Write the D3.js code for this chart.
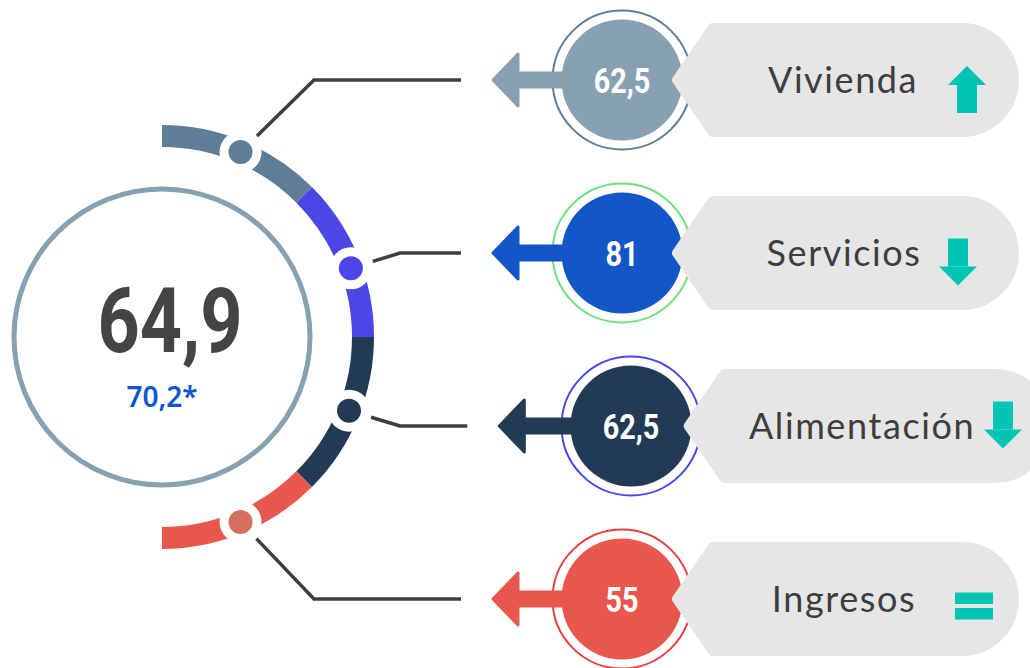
<!DOCTYPE html>
<html>
<head>
<meta charset="utf-8">
<script src="https://cdn.jsdelivr.net/npm/d3@7"></script>
<style>
  body { margin: 0; background: #fff; }
  svg { display: block; }
</style>
</head>
<body>
<div id="chart"></div>
<script>
// data
const categories = ['Vivienda', 'Servicios', 'Alimentación', 'Ingresos'];
const values = [62.5, 81, 62.5, 55];
const trends = ['up', 'down', 'down', 'equal'];
const arcShare = [1, 1, 1, 1];
const totalValue = 64.9;
const referenceValue = 70.2;

// styles
const arcColors = ['#5f7d95', '#4a47e6', '#223a54', '#e8574e'];
const dotColors = ['#5f7d95', '#4a47e6', '#223a54', '#d57060'];
const fillColors = ['#87a0b2', '#1256c8', '#223a54', '#e8574e'];
const ringColors = ['#5f7d95', '#6ee07a', '#4a47e6', '#e8403f'];
const iconColor = '#00c4b4';

// small per-row layout tweaks
const rowShift = [0, 0, 9, 0];
const dotNudge = [0.5, 2.5, -1, -0.5];       // degrees
const labelX = [843, 844, 862, 844];
const iconX = [967, 958, 1003, 974];
const iconDy = [9.5, 9, -1, 7];
const pillRight = [1019, 1019, 1052, 1019];

const width = 1030, height = 668;
const cx = 162, cy = 337;

const fmt = d3.formatLocale({decimal: ',', thousands: '.', grouping: [3], currency: ['', '']}).format('~f');

const svg = d3.select('#chart')
    .append('svg')
    .attr('width', width)
    .attr('height', height);

const y = d3.scalePoint()
    .domain(categories)
    .range([80, 599]);

// center circle
svg.append('circle')
    .attr('cx', cx).attr('cy', cy).attr('r', 148)
    .attr('fill', '#fff')
    .attr('stroke', '#87a0b2')
    .attr('stroke-width', 5);

svg.append('g')
    .attr('transform', 'translate(170,352) scale(0.82,1)')
    .append('text')
    .attr('text-anchor', 'middle')
    .attr('font-family', 'Roboto, sans-serif')
    .attr('font-weight', 700)
    .attr('font-size', 90)
    .attr('fill', '#444')
    .text(fmt(totalValue));

svg.append('text')
    .attr('x', cx).attr('y', 407)
    .attr('text-anchor', 'middle')
    .attr('font-family', '"Noto Sans", sans-serif')
    .attr('font-weight', 600)
    .attr('font-size', 28)
    .attr('fill', '#1155cc')
    .text(fmt(referenceValue) + '*');

// outer arc
const pie = d3.pie().sort(null).startAngle(0).endAngle(Math.PI).value(d => d);
const slices = pie(arcShare);
const arc = d3.arc().innerRadius(190).outerRadius(212);

const ring = svg.append('g').attr('transform', `translate(${cx},${cy})`);
ring.selectAll('path.seg')
    .data(slices)
    .enter()
    .append('path')
    .attr('class', 'seg')
    .attr('d', arc)
    .attr('fill', (d, i) => arcColors[i]);

const dots = slices.map(function(s, i) {
    const a = (s.startAngle + s.endAngle) / 2 + dotNudge[i] * Math.PI / 180;
    return {x: cx + 201 * Math.sin(a), y: cy - 201 * Math.cos(a)};
});

svg.selectAll('circle.halo')
    .data(dots)
    .enter()
    .append('circle')
    .attr('class', 'halo')
    .attr('cx', d => d.x).attr('cy', d => d.y).attr('r', 21)
    .attr('fill', '#fff');

svg.selectAll('circle.dot')
    .data(dots)
    .enter()
    .append('circle')
    .attr('class', 'dot')
    .attr('cx', d => d.x).attr('cy', d => d.y).attr('r', 12)
    .attr('fill', (d, i) => dotColors[i]);

// connectors
const tipX = i => 491 + rowShift[i] * 0.7;
const circX = i => 622 + rowShift[i];

svg.selectAll('path.conn')
    .data(categories)
    .enter()
    .append('path')
    .attr('class', 'conn')
    .attr('fill', 'none')
    .attr('stroke', '#3f3d3d')
    .attr('stroke-width', 3.5)
    .attr('d', function(c, i) {
        const d = dots[i];
        const ex = (i === 0 || i === 3) ? 314 : 400;
        const ey = y(c);
        const len = Math.hypot(ex - d.x, ey - d.y);
        const sx = d.x + 23 * (ex - d.x) / len;
        const sy = d.y + 23 * (ey - d.y) / len;
        return `M${sx},${sy} L${ex},${ey} L${tipX(i) - 30},${ey}`;
    });

// rows
function arrowPath(t, yy, toX) {
    return `M${t + 2},${yy} L${t + 27},${yy - 26} L${t + 27},${yy - 7} L${toX},${yy - 7}` +
        ` L${toX},${yy + 7} L${t + 27},${yy + 7} L${t + 27},${yy + 26} Z`;
}

function pillPath(t, yy, right) {
    const h = 52, k = 39 / 57;
    const tin = t + 9;
    const px = tin + h * k;
    const ax = right - 5 - h;
    return `M${tin},${yy} L${px},${yy - h} L${ax},${yy - h} A${h},${h} 0 0 1 ${ax},${yy + h}` +
        ` L${px},${yy + h} Z`;
}

const rows = svg.selectAll('g.row')
    .data(categories)
    .enter()
    .append('g')
    .attr('class', 'row');

rows.append('circle')
    .attr('cx', (c, i) => circX(i))
    .attr('cy', c => y(c))
    .attr('r', 69.5)
    .attr('fill', '#fff')
    .attr('stroke', (c, i) => ringColors[i])
    .attr('stroke-width', 2);

rows.append('circle')
    .attr('cx', (c, i) => circX(i))
    .attr('cy', c => y(c))
    .attr('r', 60.5)
    .attr('fill', (c, i) => fillColors[i]);

rows.append('path')
    .attr('d', (c, i) => arrowPath(tipX(i), y(c), circX(i) - 40))
    .attr('fill', (c, i) => fillColors[i])
    .attr('stroke', (c, i) => fillColors[i])
    .attr('stroke-width', 3)
    .attr('stroke-linejoin', 'round');

rows.append('g')
    .attr('transform', (c, i) => `translate(${circX(i)},${y(c) + 13}) scale(0.8,1)`)
    .append('text')
    .attr('text-anchor', 'middle')
    .attr('font-family', 'Roboto, sans-serif')
    .attr('font-weight', 700)
    .attr('font-size', 36)
    .attr('fill', '#fff')
    .text((c, i) => fmt(values[i]));

rows.append('path')
    .attr('d', (c, i) => pillPath(668 + rowShift[i] * 1.3, y(c), pillRight[i]))
    .attr('fill', '#e6e6e6')
    .attr('stroke', '#e6e6e6')
    .attr('stroke-width', 10)
    .attr('stroke-linejoin', 'round');

rows.append('text')
    .attr('x', (c, i) => labelX[i])
    .attr('y', c => y(c) + 13)
    .attr('text-anchor', 'middle')
    .attr('font-family', 'Lato, sans-serif')
    .attr('font-size', 36)
    .attr('letter-spacing', 1.6)
    .attr('fill', '#3d3d3d')
    .text(c => c);

// trend icons
rows.each(function(c, i) {
    const g = d3.select(this).append('g')
        .attr('transform', `translate(${iconX[i]},${y(c) + iconDy[i]})`)
        .attr('fill', iconColor);
    if (trends[i] === 'equal') {
        g.append('rect').attr('x', -19).attr('y', -13.5).attr('width', 38).attr('height', 11.5);
        g.append('rect').attr('x', -19).attr('y', 2).attr('width', 38).attr('height', 11.5);
    } else {
        const s = trends[i] === 'up' ? 1 : -1;
        g.append('path')
            .attr('d', `M-19,${-4.5 * s} L0,${-23.5 * s} L19,${-4.5 * s} Z`);
        g.append('rect')
            .attr('x', -10)
            .attr('y', s > 0 ? -4.5 : -23.5)
            .attr('width', 20)
            .attr('height', 28);
    }
});
</script>
</body>
</html>
